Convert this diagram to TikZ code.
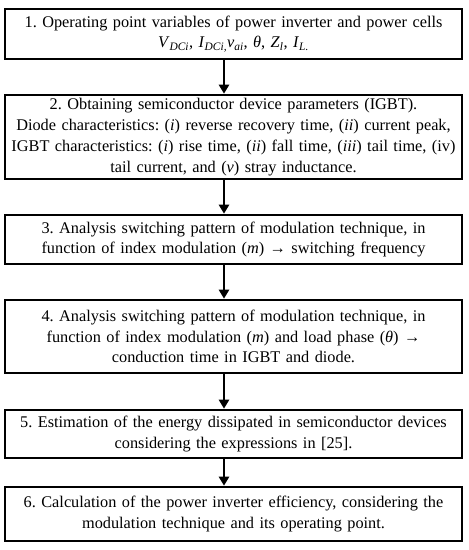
\documentclass[tikz,border=0pt]{standalone}
\usepackage{fontspec}
\setmainfont{Liberation Serif}
\usetikzlibrary{arrows.meta}
\frenchspacing
\newcommand\vi[1]{\textit{#1}}
\newcommand\vsub[2]{\textit{#1}\textsubscript{\textit{#2}}}
\begin{document}
\begin{tikzpicture}[x=1pt,y=1pt,
  stepbox/.style={draw, line width=2.6pt, minimum width=457pt, text width=455pt, align=center, inner sep=0pt,
    font=\fontsize{16.3}{20.8}\selectfont},
  flow/.style={-{Triangle[length=9pt,width=10pt]}, line width=2.5pt}]
\useasboundingbox (0,0) rectangle (469,-550);
\node[stepbox, minimum height=50pt] (b1) at (233.5,-34) {1. Operating point variables of power inverter and power cells\\
  \vsub{V}{DCi}, \vsub{I}{DCi,}\vsub{v}{ai}, \vi{θ}, \vsub{Z}{l}, \vsub{I}{L.}};
\node[stepbox, minimum height=84pt] (b2) at (233.5,-137) {2. Obtaining semiconductor device parameters (IGBT).\\
  Diode characteristics: (\vi{i}) reverse recovery time, (\vi{ii}) current peak,\\
  IGBT characteristics: (\vi{i}) rise time, (\vi{ii}) fall time, (\vi{iii}) tail time, (iv)\\
  tail current, and (\vi{v}) stray inductance.};
\node[stepbox, minimum height=49pt] (b3) at (233.5,-239.5) {3. Analysis switching pattern of modulation technique, in\\
  function of index modulation (\vi{m}) → switching frequency};
\node[stepbox, minimum height=73pt] (b4) at (233.5,-336.5) {4. Analysis switching pattern of modulation technique, in\\
  function of index modulation (\vi{m}) and load phase (\vi{θ}) →\\
  conduction time in IGBT and diode.};
\node[stepbox, minimum height=48pt] (b5) at (233.5,-434) {5. Estimation of the energy dissipated in semiconductor devices\\
  considering the expressions in [25].};
\node[stepbox, minimum height=54pt] (b6) at (233.5,-514) {6. Calculation of the power inverter efficiency, considering the\\
  modulation technique and its operating point.};
\coordinate (ax) at (224,0);
\foreach \a/\b in {b1/b2,b2/b3,b3/b4,b4/b5,b5/b6}
  \draw[flow] (\a.south -| ax) -- (\b.north -| ax);
\end{tikzpicture}
\end{document}
